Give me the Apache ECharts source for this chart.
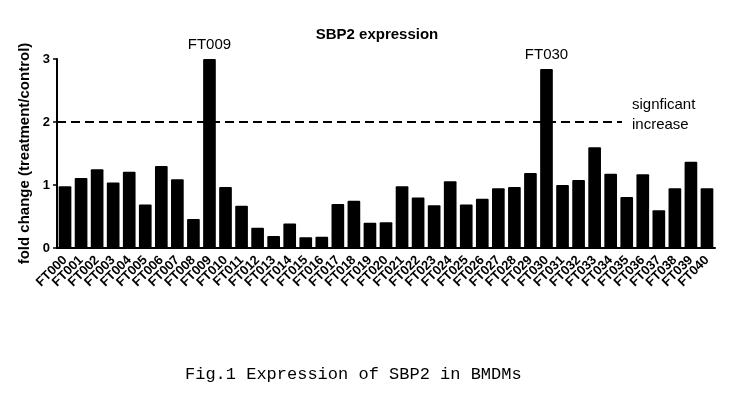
<!DOCTYPE html>
<html>
<head>
<meta charset="utf-8">
<script src="https://cdn.jsdelivr.net/npm/echarts@6/dist/echarts.min.js"></script>
<style>
  html, body { margin: 0; padding: 0; background: #fff; }
  #chart { width: 732px; height: 399px; }
</style>
</head>
<body>
<div id="chart"></div>
<script>
// sample ids on the x axis
const categories = [
  'FT000', 'FT001', 'FT002', 'FT003', 'FT004', 'FT005', 'FT006', 'FT007', 'FT008', 'FT009',
  'FT010', 'FT011', 'FT012', 'FT013', 'FT014', 'FT015', 'FT016', 'FT017', 'FT018', 'FT019',
  'FT020', 'FT021', 'FT022', 'FT023', 'FT024', 'FT025', 'FT026', 'FT027', 'FT028', 'FT029',
  'FT030', 'FT031', 'FT032', 'FT033', 'FT034', 'FT035', 'FT036', 'FT037', 'FT038', 'FT039',
  'FT040'
]

// fold change values
const foldChange = [
  0.98, 1.11, 1.25, 1.04, 1.21, 0.69, 1.30, 1.09, 0.46, 3.00,
  0.97, 0.67, 0.32, 0.19, 0.39, 0.17, 0.18, 0.70, 0.75, 0.40,
  0.41, 0.98, 0.80, 0.68, 1.06, 0.69, 0.78, 0.95, 0.97, 1.19,
  2.84, 1.00, 1.08, 1.60, 1.18, 0.81, 1.17, 0.60, 0.95, 1.37,
  0.95
]

// samples that get their name written above the bar
const highlighted = ['FT009', 'FT030']

const threshold = 2
const yTicks = [0, 1, 2, 3]

const font = 'Liberation Sans, Arial, sans-serif'

const seriesData = foldChange.map(function (v, i) {
  const item = { value: v }
  if (highlighted.indexOf(categories[i]) >= 0) {
    item.label = {
      show: true,
      position: 'top',
      distance: 7,
      formatter: categories[i],
      color: '#000',
      fontFamily: font,
      fontSize: 15
    }
  }
  return item
})

const myChart = echarts.init(document.getElementById('chart'))

myChart.setOption({
  animation: false,
  title: {
    text: 'SBP2 expression',
    left: 372,
    top: 22,
    textAlign: 'center',
    textStyle: {
      fontFamily: font,
      fontSize: 15,
      fontWeight: 'bold',
      color: '#000'
    }
  },
  grid: {
    left: 57,
    right: 17,
    top: 59,
    bottom: 151,
    outerBoundsMode: 'none'
  },
  xAxis: {
    type: 'category',
    data: categories,
    axisLine: { lineStyle: { color: '#000', width: 2 } },
    axisTick: { alignWithLabel: true, length: 5, lineStyle: { color: '#000', width: 1.5 } },
    axisLabel: {
      interval: 0,
      rotate: 45,
      margin: 10,
      color: '#000',
      fontFamily: font,
      fontSize: 13,
      fontWeight: 'bold'
    }
  },
  yAxis: {
    type: 'value',
    min: yTicks[0],
    max: yTicks[yTicks.length - 1],
    interval: 1,
    name: 'fold change (treatment/control)',
    nameLocation: 'middle',
    nameGap: 19,
    nameTextStyle: {
      color: '#000',
      fontFamily: font,
      fontSize: 15,
      fontWeight: 'bold'
    },
    splitLine: { show: false },
    axisLine: { show: true, lineStyle: { color: '#000', width: 2 } },
    axisTick: { show: true, length: 4, lineStyle: { color: '#000', width: 1.5 } },
    axisLabel: {
      margin: 7,
      color: '#000',
      fontFamily: font,
      fontSize: 13,
      fontWeight: 'bold'
    }
  },
  series: [
    {
      type: 'bar',
      data: seriesData,
      barCategoryGap: '21%',
      itemStyle: { color: '#000', borderRadius: 1 },
      markLine: {
        silent: true,
        symbol: 'none',
        label: { show: false },
        lineStyle: { color: '#000', width: 2, type: [9, 5] },
        data: [
          [
            { yAxis: threshold, x: 57 },
            { yAxis: threshold, x: 622 }
          ]
        ]
      }
    }
  ],
  graphic: [
    {
      type: 'text',
      left: 632,
      top: 95,
      style: {
        text: 'signficant\nincrease',
        fill: '#000',
        font: '15px Liberation Sans, Arial, sans-serif',
        lineHeight: 20
      }
    },
    {
      type: 'text',
      left: 185,
      top: 366,
      style: {
        text: 'Fig.1 Expression of SBP2 in BMDMs',
        fill: '#000',
        font: '17px Liberation Mono, monospace'
      }
    }
  ]
})
</script>
</body>
</html>
